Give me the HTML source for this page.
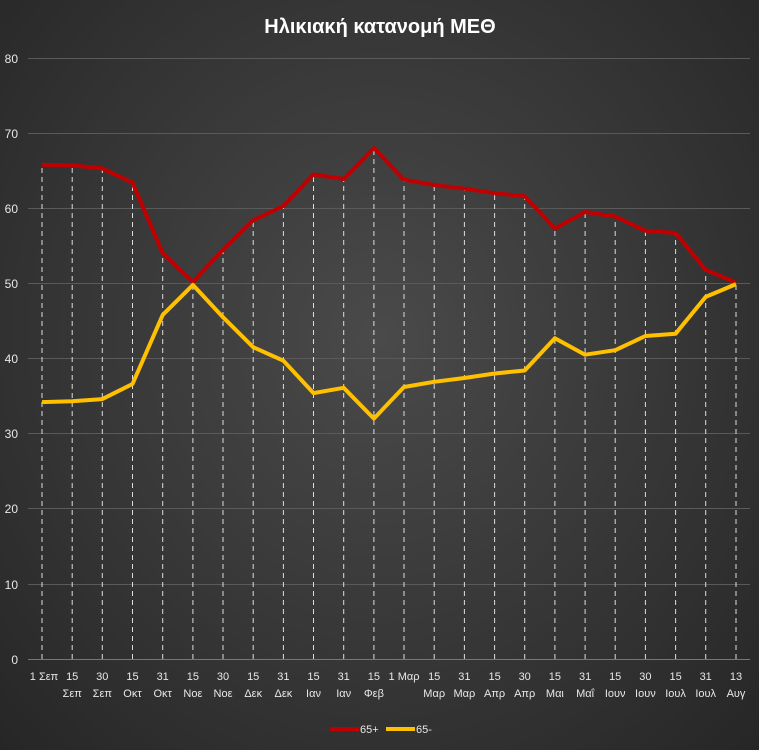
<!DOCTYPE html><html><head><meta charset="utf-8"><style>
html,body{margin:0;padding:0;width:759px;height:750px;overflow:hidden}
body{background:radial-gradient(ellipse at 50% 45%,#4a4a4a 0%,#3a3a3a 45%,#262626 100%)}
text{font-family:"Liberation Sans","DejaVu Sans",sans-serif;fill:#e8e8e8}
</style></head><body>
<svg width="759" height="750" xmlns="http://www.w3.org/2000/svg">
<text x="380" y="33" text-anchor="middle" font-size="20" font-weight="bold" fill="#fff" style="fill:#fff">Ηλικιακή κατανομή ΜΕΘ</text>
<g stroke="#5a5a5a" stroke-width="1">
<line x1="28" x2="750" y1="58.5" y2="58.5"/><line x1="28" x2="750" y1="133.5" y2="133.5"/><line x1="28" x2="750" y1="208.5" y2="208.5"/><line x1="28" x2="750" y1="283.5" y2="283.5"/><line x1="28" x2="750" y1="358.5" y2="358.5"/><line x1="28" x2="750" y1="433.5" y2="433.5"/><line x1="28" x2="750" y1="508.5" y2="508.5"/><line x1="28" x2="750" y1="584.5" y2="584.5"/><line x1="28" x2="750" y1="659.5" y2="659.5" stroke="#777"/>
</g>
<g font-size="12" text-anchor="end">
<text x="18" y="63">80</text><text x="18" y="138">70</text><text x="18" y="213">60</text><text x="18" y="288">50</text><text x="18" y="363">40</text><text x="18" y="438">30</text><text x="18" y="513">20</text><text x="18" y="589">10</text><text x="18" y="664">0</text>
</g>
<g stroke="#ddd" stroke-width="1" stroke-dasharray="5,4">
<line x1="42" x2="42" y1="659" y2="165"/><line x1="72.2" x2="72.2" y1="659" y2="165"/><line x1="102.3" x2="102.3" y1="659" y2="168"/><line x1="132.5" x2="132.5" y1="659" y2="183"/><line x1="162.7" x2="162.7" y1="659" y2="253"/><line x1="192.9" x2="192.9" y1="659" y2="282"/><line x1="223" x2="223" y1="659" y2="250"/><line x1="253.2" x2="253.2" y1="659" y2="220"/><line x1="283.4" x2="283.4" y1="659" y2="206"/><line x1="313.5" x2="313.5" y1="659" y2="174"/><line x1="343.7" x2="343.7" y1="659" y2="179"/><line x1="373.9" x2="373.9" y1="659" y2="148"/><line x1="404" x2="404" y1="659" y2="180"/><line x1="434.2" x2="434.2" y1="659" y2="185"/><line x1="464.4" x2="464.4" y1="659" y2="189"/><line x1="494.6" x2="494.6" y1="659" y2="193"/><line x1="524.7" x2="524.7" y1="659" y2="196"/><line x1="554.9" x2="554.9" y1="659" y2="228"/><line x1="585.1" x2="585.1" y1="659" y2="212"/><line x1="615.2" x2="615.2" y1="659" y2="216"/><line x1="645.4" x2="645.4" y1="659" y2="231"/><line x1="675.6" x2="675.6" y1="659" y2="233"/><line x1="705.7" x2="705.7" y1="659" y2="270"/><line x1="736" x2="736" y1="659" y2="283"/>
</g>
<polyline fill="none" stroke="#c00000" stroke-width="4" stroke-linejoin="round" points="42,164.7 72.2,165.4 102.3,168.4 132.5,182.7 162.7,253.3 192.9,281.9 223,249.6 253.2,220.3 283.4,206 313.5,174.4 343.7,179 373.9,148.1 404,179.7 434.2,185 464.4,188.7 494.6,193.2 524.7,196.2 554.9,228.5 585.1,212 615.2,216.5 645.4,230.8 675.6,233 705.7,269.8 736,282.6"/>
<polyline fill="none" stroke="#ffc000" stroke-width="4" stroke-linejoin="round" points="42,402.1 72.2,401.3 102.3,399.1 132.5,384 162.7,314.9 192.9,284.9 223,317.2 253.2,347.2 283.4,360.7 313.5,393.1 343.7,387.8 373.9,418.6 404,387 434.2,381.8 464.4,378 494.6,373.5 524.7,370.5 554.9,338.2 585.1,354.7 615.2,350.2 645.4,336 675.6,333.7 705.7,296.9 736,284.1"/>
<g font-size="11" text-anchor="middle">
<text x="44" y="680">1 Σεπ</text>
<text x="72.2" y="680">15</text><text x="72.2" y="697">Σεπ</text>
<text x="102.3" y="680">30</text><text x="102.3" y="697">Σεπ</text>
<text x="132.5" y="680">15</text><text x="132.5" y="697">Οκτ</text>
<text x="162.7" y="680">31</text><text x="162.7" y="697">Οκτ</text>
<text x="192.9" y="680">15</text><text x="192.9" y="697">Νοε</text>
<text x="223" y="680">30</text><text x="223" y="697">Νοε</text>
<text x="253.2" y="680">15</text><text x="253.2" y="697">Δεκ</text>
<text x="283.4" y="680">31</text><text x="283.4" y="697">Δεκ</text>
<text x="313.5" y="680">15</text><text x="313.5" y="697">Ιαν</text>
<text x="343.7" y="680">31</text><text x="343.7" y="697">Ιαν</text>
<text x="373.9" y="680">15</text><text x="373.9" y="697">Φεβ</text>
<text x="404" y="680">1 Μαρ</text>
<text x="434.2" y="680">15</text><text x="434.2" y="697">Μαρ</text>
<text x="464.4" y="680">31</text><text x="464.4" y="697">Μαρ</text>
<text x="494.6" y="680">15</text><text x="494.6" y="697">Απρ</text>
<text x="524.7" y="680">30</text><text x="524.7" y="697">Απρ</text>
<text x="554.9" y="680">15</text><text x="554.9" y="697">Μαι</text>
<text x="585.1" y="680">31</text><text x="585.1" y="697">Μαΐ</text>
<text x="615.2" y="680">15</text><text x="615.2" y="697">Ιουν</text>
<text x="645.4" y="680">30</text><text x="645.4" y="697">Ιουν</text>
<text x="675.6" y="680">15</text><text x="675.6" y="697">Ιουλ</text>
<text x="705.7" y="680">31</text><text x="705.7" y="697">Ιουλ</text>
<text x="736" y="680">13</text><text x="736" y="697">Αυγ</text>
</g>
<line x1="330" x2="359" y1="729" y2="729" stroke="#c00000" stroke-width="4"/>
<text x="360" y="733" font-size="11">65+</text>
<line x1="386" x2="415" y1="729" y2="729" stroke="#ffc000" stroke-width="4"/>
<text x="416" y="733" font-size="11">65-</text>
</svg>
</body></html>
